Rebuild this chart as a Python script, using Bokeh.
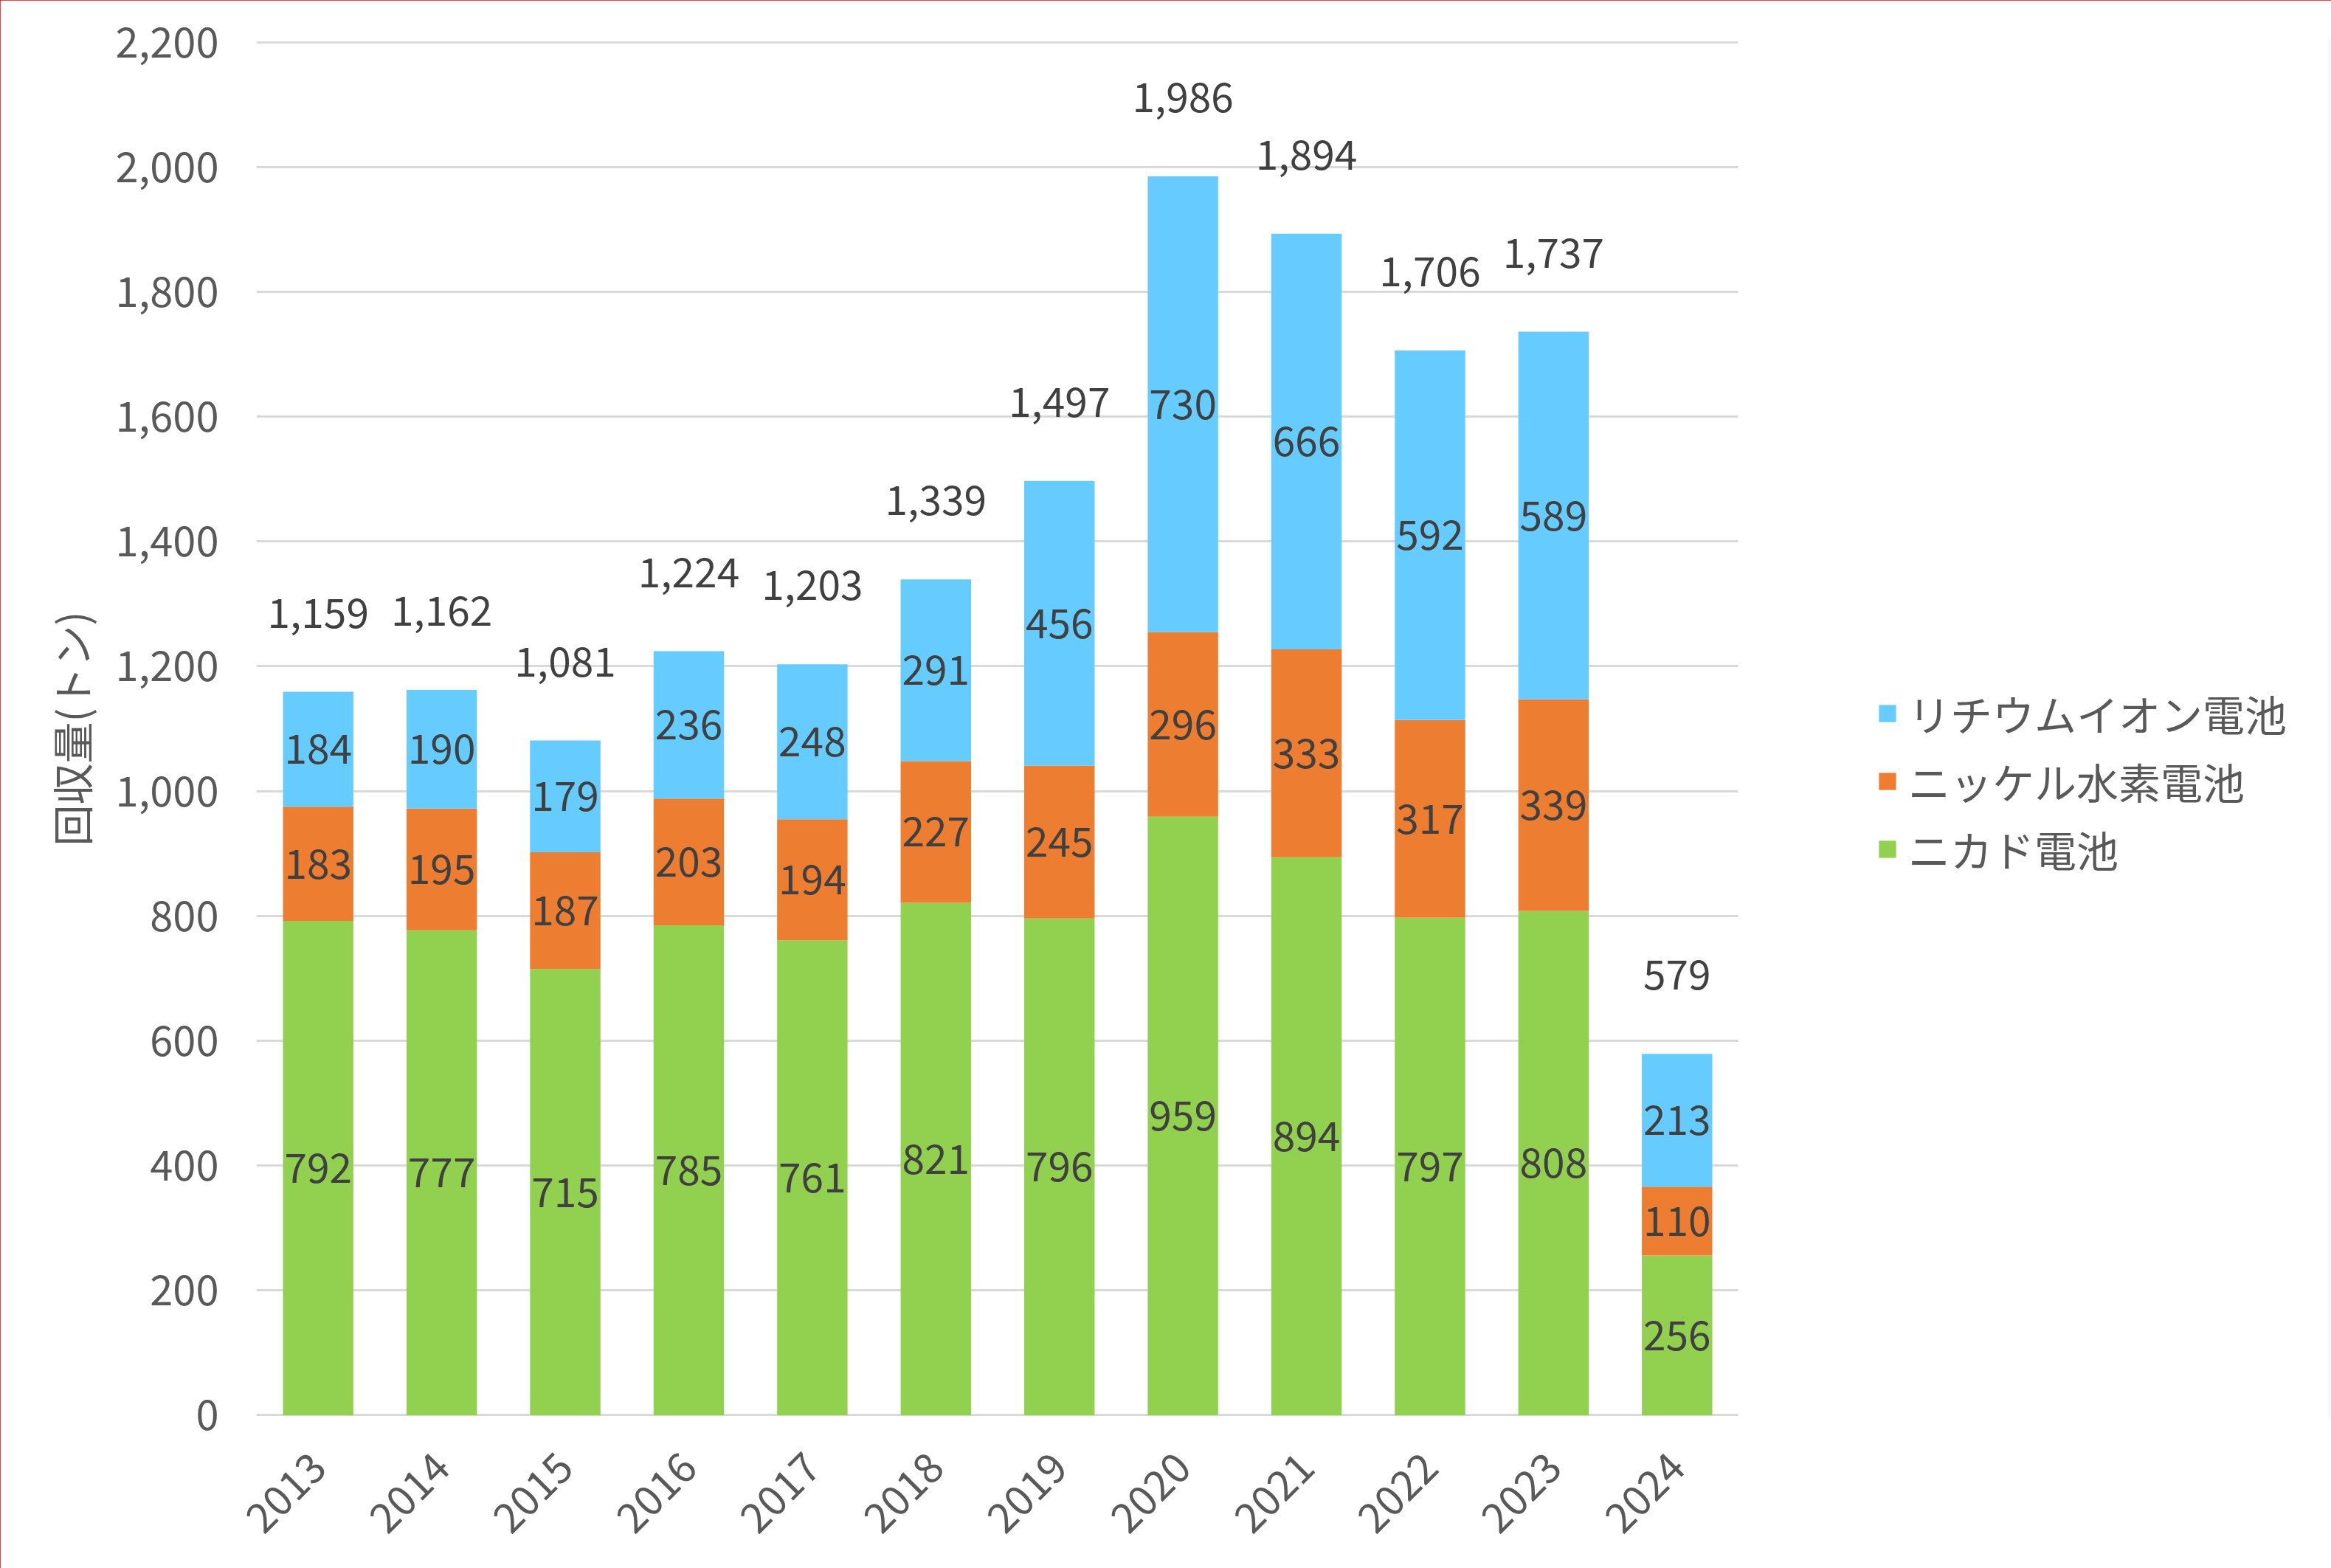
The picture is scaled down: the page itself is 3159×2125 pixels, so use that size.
import math
from bokeh.plotting import figure
from bokeh.models import (ColumnDataSource, Range1d, Legend, LegendItem, FixedTicker,
                          SingleIntervalTicker, NumeralTickFormatter, BoxAnnotation)
from bokeh.core.properties import value
from bokeh.embed import file_html
from bokeh.resources import INLINE

years = ["2013", "2014", "2015", "2016", "2017", "2018", "2019", "2020", "2021", "2022", "2023", "2024"]
nicad = [792, 777, 715, 785, 761, 821, 796, 959, 894, 797, 808, 256]
nimh = [183, 195, 187, 203, 194, 227, 245, 296, 333, 317, 339, 110]
liion = [184, 190, 179, 236, 248, 291, 456, 730, 666, 592, 589, 213]
totals = [1159, 1162, 1081, 1224, 1203, 1339, 1497, 1986, 1894, 1706, 1737, 579]

series_names = ["ニカド電池", "ニッケル水素電池", "リチウムイオン電池"]
colors = ["#92D050", "#ED7D31", "#66CCFF"]
y_title = "回収量(トン)"

FONT = "Noto Sans CJK JP"

# layout (pixels)
W, H = 3159, 2125
LEFT, TOP, BOTTOM, RIGHT = 347, 54, 205, 3
PLOT_W = 2009          # width occupied by the 12 categories
frame_w = W - LEFT - RIGHT
n = len(years)
xs = list(range(n))
x_end = -0.5 + n * frame_w / PLOT_W

src = ColumnDataSource(dict(x=xs, nicad=nicad, nimh=nimh, liion=liion))

p = figure(x_range=Range1d(-0.5, x_end), y_range=Range1d(-3, 2203),
           width=W, height=H, output_backend="svg", toolbar_location=None,
           min_border_left=LEFT, min_border_right=RIGHT, min_border_top=TOP,
           min_border_bottom=BOTTOM)
p.outline_line_color = None
p.background_fill_color = "white"
p.border_fill_color = "white"
p.styles = {"position": "absolute", "left": "0px", "top": "0px",
            "outline": "3px solid #FF0000", "outline-offset": "-3px"}

rs = p.vbar_stack(["nicad", "nimh", "liion"], x="x", width=0.57, source=src,
                  color=colors, line_color=None)

# segment labels
lx, ly, lt = [], [], []
for i in range(n):
    base = 0
    for vals in (nicad, nimh, liion):
        v = vals[i]
        lx.append(i)
        ly.append(base + v / 2)
        lt.append(str(v))
        base += v
p.text(x=lx, y=ly, text=lt, text_align="center", text_baseline="middle",
       text_font=value(FONT), text_font_size="55px", text_color="#404040")

# total labels
tstr = [f"{t:,}" for t in totals]
p.text(x=xs, y=[nicad[i] + nimh[i] + liion[i] for i in range(n)], text=tstr,
       y_offset=-107, text_align="center", text_baseline="middle",
       text_font=value(FONT), text_font_size="55px", text_color="#404040")

# y axis
p.yaxis.ticker = SingleIntervalTicker(interval=200)
p.yaxis.formatter = NumeralTickFormatter(format="0,0")
p.yaxis.axis_line_color = None
p.yaxis.major_tick_line_color = None
p.yaxis.minor_tick_line_color = None
p.yaxis.major_label_text_font = FONT
p.yaxis.major_label_text_font_size = "56px"
p.yaxis.major_label_text_color = "#595959"
p.yaxis.major_label_standoff = 45
p.yaxis.axis_label = y_title
p.yaxis.axis_label_text_font = FONT
p.yaxis.axis_label_text_font_size = "56px"
p.yaxis.axis_label_text_font_style = "normal"
p.yaxis.axis_label_text_color = "#595959"
p.yaxis.axis_label_standoff = 18

# x axis (category positions)
p.xaxis.ticker = FixedTicker(ticks=xs)
p.xaxis.major_label_overrides = {i: y for i, y in enumerate(years)}
p.xaxis.axis_line_color = None
p.xaxis.major_tick_line_color = None
p.xaxis.minor_tick_line_color = None
p.xaxis.major_label_orientation = math.pi / 4
p.xaxis.major_label_text_font = FONT
p.xaxis.major_label_text_font_size = "56px"
p.xaxis.major_label_text_color = "#595959"
p.xaxis.major_label_standoff = 52

p.xgrid.grid_line_color = None
p.ygrid.grid_line_color = "#D9D9D9"
p.ygrid.grid_line_width = 3

# keep the right-hand legend area clear of grid lines
p.add_layout(BoxAnnotation(left=n - 0.5, right=x_end + 5, bottom=-500, top=3000,
                           fill_color="white", fill_alpha=1.0,
                           line_color="white", line_alpha=1.0, line_width=2,
                           level="annotation"))

items = [LegendItem(label=series_names[k], renderers=[rs[k]]) for k in (2, 1, 0)]
legend = Legend(items=items, location=(PLOT_W + 187, 729), orientation="vertical",
                glyph_width=29, glyph_height=29, label_height=60, spacing=10,
                label_standoff=14, padding=0, margin=0,
                label_text_font=FONT, label_text_font_size="57px",
                label_text_color="#595959", border_line_color=None,
                background_fill_alpha=0)
p.add_layout(legend, "center")

open("out.html", "w").write(file_html(p, INLINE))
